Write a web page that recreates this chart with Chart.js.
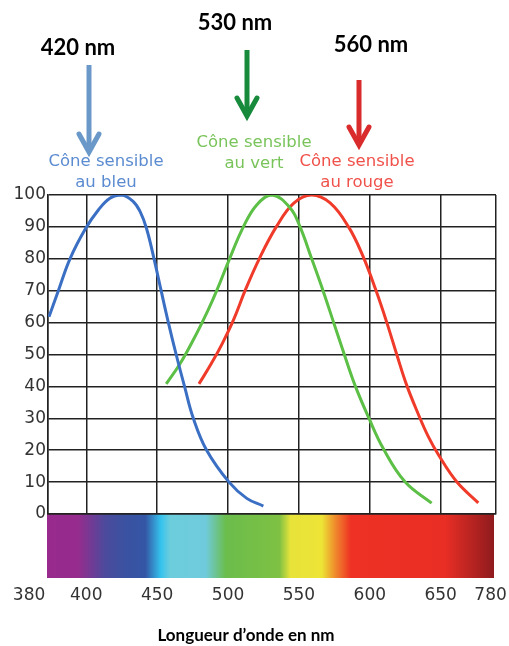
<!DOCTYPE html>
<html>
<head>
<meta charset="utf-8">
<script src="https://cdn.jsdelivr.net/npm/chart.js@4/dist/chart.umd.min.js"></script>
<style>
  html, body { margin: 0; padding: 0; background: #fff; }
  #wrap { width: 509px; height: 646px; position: relative; }
</style>
</head>
<body>
<div id="wrap"><canvas id="cones"></canvas></div>
<script>
// Wavelength positions (nm, as laid out on the picture's grid) and sensitivity (%)
const blueX = [373.7, 380.3, 388.5, 399.1, 408.5, 416.7, 425, 433, 438, 442.5, 447.8, 452.8, 457.9, 463.4, 469.3, 475.5, 484.9, 500.7, 513.2, 524.9];
const blueY = [61.8, 70, 80, 89.2, 95.3, 99, 100, 98, 94.8, 89.5, 80, 70, 60, 50, 40, 30, 20, 10, 4.9, 2.5];

const greenX = [456.4, 466, 476, 486, 492, 500.7, 510.8, 520.2, 531, 543.7, 550.8, 559, 567, 574.5, 582, 589.5, 598.9, 609.5, 624.8, 643.6];
const greenY = [40.8, 47, 55, 64, 70, 79.6, 90, 96.9, 100, 96, 90, 80, 70, 60, 50, 40.4, 30.5, 20.5, 10.1, 3.4];

const redX = [479.5, 488, 496, 504, 512, 522, 534, 546.2, 559, 572, 585, 595, 604, 612, 619, 626, 634, 641, 648.5, 661.3, 676.5];
const redY = [40.8, 47, 53.5, 61, 70, 80, 90, 97.4, 100, 97.5, 90, 81, 70.5, 60, 50, 40.4, 31.5, 24.5, 18.5, 10.1, 3.5];

// x ticks: the picture's axis starts at "380" and ends at "780" (axis break)
const xTickValues = [373, 400, 450, 500, 550, 600, 650, 689];
const xTickLabels = ['380', '400', '450', '500', '550', '600', '650', '780'];

const seriesNames = ['Cône sensible au bleu', 'Cône sensible au vert', 'Cône sensible au rouge'];

const toPoints = (xs, ys) => xs.map((x, i) => ({ x: x, y: ys[i] }));

// spectrum band under the plot
const spectrumPlugin = {
    id: 'spectrum',
    beforeDraw(chart) {
        const { ctx, chartArea } = chart;
        const x0 = chartArea.left - 1, x1 = chartArea.right - 2;
        const g = ctx.createLinearGradient(x0, 0, x1, 0);
        [
            [0, '#982a8d'], [0.07, '#962c8d'], [0.13, '#4c4a9c'], [0.175, '#3a52a1'],
            [0.22, '#3456a5'], [0.255, '#35c3ee'], [0.275, '#6ccddc'], [0.355, '#6fcbdc'],
            [0.40, '#6bbd4c'], [0.52, '#7ec143'], [0.545, '#e8e33a'], [0.615, '#ede436'],
            [0.645, '#ef8a2c'], [0.68, '#ee3124'], [0.89, '#e92e25'], [1, '#8f1b1e']
        ].forEach(s => g.addColorStop(s[0], s[1]));
        ctx.save();
        ctx.fillStyle = g;
        ctx.fillRect(x0, chartArea.bottom, x1 - x0, 64);
        ctx.restore();
    }
};

// labels, arrows and axis title
const notesPlugin = {
    id: 'notes',
    afterDraw(chart) {
        const ctx = chart.ctx;
        ctx.save();
        ctx.textAlign = 'center';

        ctx.font = 'bold 22px Lato, "Open Sans", sans-serif';
        ctx.fillStyle = '#000';
        ctx.textBaseline = 'middle';
        ctx.fillText('420 nm', 78, 48);
        ctx.fillText('530 nm', 235, 23);
        ctx.fillText('560 nm', 371, 45);

        const arrow = (x, y0, y1, color) => {
            ctx.strokeStyle = color;
            ctx.lineWidth = 5;
            ctx.lineCap = 'butt';
            ctx.beginPath();
            ctx.moveTo(x, y0);
            ctx.lineTo(x, y1 - 2);
            ctx.stroke();
            ctx.lineCap = 'round';
            ctx.lineJoin = 'miter';
            ctx.beginPath();
            ctx.moveTo(x - 10, y1 - 18);
            ctx.lineTo(x, y1);
            ctx.lineTo(x + 10, y1 - 18);
            ctx.stroke();
        };
        arrow(89, 65, 152, '#6a98c8');
        arrow(247, 50, 116, '#178a3c');
        arrow(359, 80, 145, '#d92b2b');

        ctx.font = '16.5px "DejaVu Sans", sans-serif';
        ctx.textBaseline = 'alphabetic';
        ctx.fillStyle = '#5b8bd0';
        ctx.fillText('Cône sensible', 106, 166);
        ctx.fillText('au bleu', 106, 187);
        ctx.fillStyle = '#79c45a';
        ctx.fillText('Cône sensible', 254, 147);
        ctx.fillText('au vert', 254, 168);
        ctx.fillStyle = '#f0514a';
        ctx.fillText('Cône sensible', 357, 166);
        ctx.fillText('au rouge', 357, 187);

        ctx.font = 'bold 17px Lato, "Open Sans", sans-serif';
        ctx.fillStyle = '#000';
        ctx.textBaseline = 'middle';
        ctx.fillText('Longueur d\u2019onde en nm', 246, 636);
        ctx.restore();
    }
};

const colors = ['#3a6fc4', '#5cbf46', '#f03a2a'];
const pointSets = [toPoints(blueX, blueY), toPoints(greenX, greenY), toPoints(redX, redY)];

new Chart(document.getElementById('cones'), {
    type: 'line',
    data: {
        datasets: pointSets.map((pts, i) => ({
            label: seriesNames[i],
            data: pts,
            borderColor: colors[i],
            borderWidth: 3,
            pointRadius: 0,
            tension: 0.4,
            fill: false
        }))
    },
    options: {
        responsive: true,
        maintainAspectRatio: false,
        animation: false,
        layout: { padding: { top: 195, right: 13, left: 0, bottom: 0 } },
        plugins: {
            legend: { display: false },
            tooltip: { enabled: false }
        },
        scales: {
            x: {
                type: 'linear',
                min: xTickValues[0],
                max: xTickValues[xTickValues.length - 1],
                afterBuildTicks: axis => { axis.ticks = xTickValues.map(v => ({ value: v })); },
                afterFit: axis => {
                    axis.height = 132;
                    axis.paddingLeft = 0;
                    axis.paddingRight = 0;
                },
                grid: { color: '#222', lineWidth: 1.5, drawTicks: true, tickLength: 71, tickColor: 'rgba(0,0,0,0)' },
                border: { color: '#222', width: 1.5 },
                ticks: {
                    padding: 0,
                    color: '#333',
                    font: { family: '"DejaVu Sans"', size: 17 },
                    maxRotation: 0,
                    autoSkip: false,
                    callback: (v, i) => {
                        if (i === 0) return xTickLabels[i] + '\u00a0\u00a0\u00a0\u00a0\u00a0\u00a0\u00a0';
                        if (i === xTickLabels.length - 1) return xTickLabels[i] + '\u00a0\u00a0';
                        return xTickLabels[i];
                    }
                }
            },
            y: {
                min: 0,
                max: 100,
                afterFit: axis => { axis.width = 48; },
                grid: { color: '#222', lineWidth: 1.5, drawTicks: false },
                border: { color: '#222', width: 1.5 },
                ticks: {
                    stepSize: 10,
                    padding: 2,
                    color: '#333',
                    font: { family: '"DejaVu Sans"', size: 17 }
                }
            }
        }
    },
    plugins: [spectrumPlugin, notesPlugin]
});
</script>
</body>
</html>
